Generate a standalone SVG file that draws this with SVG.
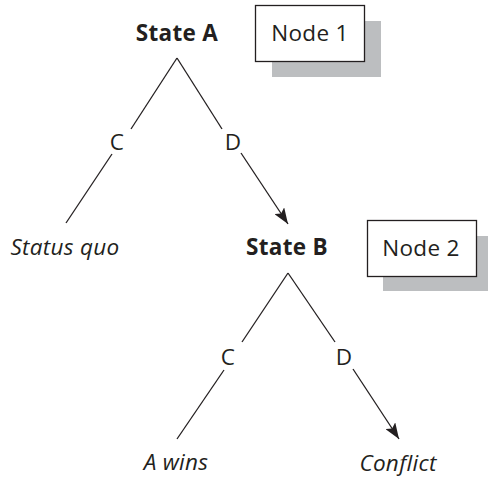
<svg xmlns="http://www.w3.org/2000/svg" width="488" height="479" viewBox="0 0 488 479">
<style>
text{font-family:"Open Sans","Noto Sans","DejaVu Sans",sans-serif;font-size:22.5px;letter-spacing:0.3px;fill:#231f20}
.b{font-weight:bold;text-anchor:middle}
.i{font-style:italic;text-anchor:middle}
.l{text-anchor:middle}
.e{stroke:#231f20;stroke-width:1.3;fill:none}
.box{fill:#fff;stroke:#231f20;stroke-width:1.3}
.sh{fill:#bcbec0}
</style>
<defs>
<marker id="ah" viewBox="0 0 16 12" refX="16" refY="6" markerWidth="16" markerHeight="12" markerUnits="userSpaceOnUse" orient="auto">
<path d="M0,0 L16,6 L0,12 L3.5,6 Z" fill="#231f20"/>
</marker>
</defs>
<g id="connectors">
<line class="e" x1="177" y1="58" x2="131" y2="129"/>
<line class="e" x1="177" y1="58" x2="222" y2="129"/>
<line class="e" x1="112" y1="154" x2="66" y2="223"/>
<line class="e" x1="241" y1="153" x2="288" y2="224" marker-end="url(#ah)"/>
<line class="e" x1="288" y1="273" x2="242" y2="342"/>
<line class="e" x1="288" y1="273" x2="335" y2="342"/>
<line class="e" x1="224" y1="370" x2="177" y2="439"/>
<line class="e" x1="353" y1="369" x2="399" y2="439" marker-end="url(#ah)"/>
</g>
<g id="stateA"><text class="b" x="177" y="41">State A</text></g>
<g id="node1">
<rect class="sh" x="272" y="21" width="109" height="56"/>
<rect class="box" x="255.5" y="5.5" width="109" height="56"/>
<text class="l" x="310" y="41">Node 1</text>
</g>
<g id="labelC1"><text class="l" x="117" y="150">C</text></g>
<g id="labelD1"><text class="l" x="233" y="150">D</text></g>
<g id="statusquo"><text class="i" x="65" y="255">Status quo</text></g>
<g id="stateB"><text class="b" x="287" y="255">State B</text></g>
<g id="node2">
<rect class="sh" x="383" y="236" width="105" height="55"/>
<rect class="box" x="367.5" y="220.5" width="109" height="56"/>
<text class="l" x="421" y="256">Node 2</text>
</g>
<g id="labelC2"><text class="l" x="228" y="365">C</text></g>
<g id="labelD2"><text class="l" x="344" y="365">D</text></g>
<g id="awins"><text class="i" x="176" y="470">A wins</text></g>
<g id="conflict"><text class="i" x="398" y="471">Conflict</text></g>
</svg>
